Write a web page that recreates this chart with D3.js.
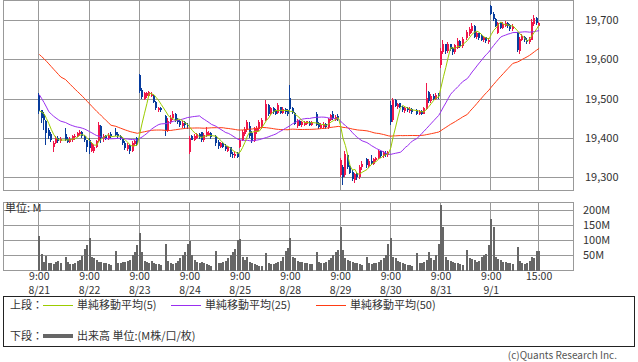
<!DOCTYPE html>
<html>
<head>
<meta charset="utf-8">
<script src="https://cdn.jsdelivr.net/npm/d3@7"></script>
<style>
  body { margin: 0; background: #fff; }
  svg { display: block; font-family: "Noto Sans CJK JP", "Noto Sans", sans-serif; }
</style>
</head>
<body>
<svg id="chart" width="638" height="362"></svg>
<script>
// 15-minute bars, 8/21 - 9/1 (lunch break slot has no bar)
var days = ["8/21", "8/22", "8/23", "8/24", "8/25", "8/28", "8/29", "8/30", "8/31", "9/1"];
var times = ["9:00", "9:15", "9:30", "9:45", "10:00", "10:15", "10:30", "10:45", "11:00", "11:15",
             "11:30",
             "12:45", "13:00", "13:15", "13:30", "13:45", "14:00", "14:15", "14:30", "14:45", "15:00"];
var lunchSlot = "11:30";
var priceTicks = [19300, 19400, 19500, 19600, 19700];
var volTicks = [50, 100, 150, 200];

// closes before 8/21, only used to start the moving averages
var priorCloses = [19730, 19725, 19728, 19732, 19735, 19730, 19728, 19725, 19729,
  19720, 19710, 19705, 19712, 19708, 19700, 19705, 19710, 19706, 19702, 19698, 19704, 19700, 19708, 19712, 19706, 19700, 19702, 19698, 19702,
  19540, 19528, 19515, 19500, 19490, 19482, 19470, 19466, 19460, 19456, 19448, 19440, 19452, 19446, 19456, 19460, 19465, 19468, 19472, 19470];

// [open, high, low, close]
var bars0821 = [[19510,19514,19462,19468],[19470,19472,19438,19452],[19460,19466,19420,19445],[19444,19446,19382,19412],[19420,19426,19398,19405],
  [19410,19414,19390,19395],[19378,19392,19364,19388],[19388,19404,19384,19400],[19400,19406,19388,19392],[19392,19402,19388,19398],
  [19410,19425,19392,19396],[19398,19402,19386,19390],[19390,19402,19386,19398],[19394,19408,19390,19404],[19402,19410,19396,19406],
  [19404,19416,19402,19412],[19410,19420,19406,19416],[19416,19418,19400,19404],[19404,19408,19390,19394],[19394,19396,19364,19378]];
var bars0822 = [[19396,19400,19360,19374],[19368,19390,19364,19386],[19366,19382,19362,19378],[19378,19396,19374,19392],[19392,19440,19390,19432],
  [19430,19432,19387,19400],[19398,19410,19390,19406],[19406,19408,19394,19398],[19398,19412,19394,19408],[19410,19414,19400,19404],
  [19416,19425,19404,19408],[19410,19414,19400,19404],[19406,19408,19396,19400],[19400,19402,19382,19386],[19388,19392,19370,19374],
  [19372,19386,19366,19382],[19382,19384,19360,19366],[19368,19392,19364,19388],[19384,19396,19380,19392],[19400,19402,19380,19384]];
var bars0823 = [[19560,19562,19515,19520],[19522,19528,19500,19505],[19500,19518,19496,19514],[19506,19518,19502,19514],[19508,19520,19504,19516],
  [19508,19516,19504,19512],[19508,19510,19488,19492],[19492,19494,19472,19476],[19470,19480,19466,19476],[19476,19480,19466,19470],
  [19455,19458,19405,19418],[19418,19450,19414,19442],[19440,19458,19436,19452],[19450,19468,19446,19462],[19462,19464,19440,19446],
  [19446,19450,19436,19440],[19442,19446,19428,19434],[19430,19442,19426,19438],[19440,19444,19426,19432],[19434,19438,19424,19430]];
var bars0824 = [[19364,19404,19360,19400],[19405,19408,19394,19396],[19396,19410,19392,19406],[19400,19412,19398,19410],[19410,19412,19398,19402],
  [19414,19416,19390,19394],[19394,19412,19390,19408],[19406,19428,19402,19414],[19408,19418,19404,19412],[19412,19414,19398,19402],
  [19404,19408,19380,19386],[19390,19394,19372,19380],[19378,19390,19374,19386],[19388,19390,19374,19378],[19380,19384,19366,19372],
  [19368,19380,19364,19376],[19376,19378,19352,19358],[19360,19364,19350,19356],[19354,19364,19350,19360],[19362,19364,19348,19352]];
var bars0825 = [[19378,19400,19374,19396],[19396,19420,19392,19414],[19410,19428,19406,19422],[19420,19446,19416,19440],[19430,19440,19400,19404],
  [19412,19418,19386,19392],[19392,19428,19390,19424],[19414,19430,19410,19426],[19422,19446,19418,19440],[19428,19450,19424,19446],
  [19446,19496,19444,19486],[19484,19486,19456,19460],[19462,19480,19458,19476],[19476,19478,19460,19466],[19470,19474,19458,19462],
  [19464,19490,19460,19484],[19478,19480,19460,19464],[19464,19478,19460,19474],[19474,19476,19460,19466],[19470,19474,19456,19460]];
var bars0828 = [[19502,19535,19470,19474],[19476,19478,19460,19464],[19464,19466,19432,19436],[19430,19448,19426,19444],[19444,19446,19430,19434],
  [19432,19442,19428,19440],[19434,19444,19430,19440],[19436,19444,19432,19442],[19440,19444,19430,19434],[19432,19444,19430,19440],
  [19462,19466,19430,19434],[19438,19440,19424,19428],[19426,19438,19422,19434],[19428,19440,19424,19436],[19436,19438,19424,19428],
  [19428,19452,19424,19448],[19446,19462,19442,19458],[19460,19468,19446,19450],[19446,19458,19442,19454],[19456,19460,19444,19448]];
var bars0829 = [[19306,19350,19300,19344],[19326,19330,19280,19300],[19306,19366,19302,19358],[19356,19360,19322,19326],[19328,19332,19308,19312],
  [19314,19318,19290,19296],[19292,19312,19286,19308],[19310,19314,19294,19300],[19300,19330,19296,19326],[19326,19342,19318,19334],
  [19346,19350,19324,19330],[19328,19346,19324,19342],[19342,19356,19330,19336],[19334,19348,19330,19346],[19344,19352,19340,19348],
  [19348,19370,19346,19366],[19366,19368,19350,19354],[19354,19366,19350,19362],[19362,19366,19352,19356],[19356,19368,19352,19364]];
var bars0830 = [[19484,19494,19432,19440],[19446,19502,19440,19496],[19496,19500,19478,19482],[19478,19490,19474,19486],[19488,19490,19476,19480],
  [19480,19482,19466,19470],[19468,19480,19464,19476],[19476,19478,19466,19470],[19468,19478,19464,19474],[19474,19476,19462,19466],
  [19472,19474,19458,19462],[19460,19472,19458,19468],[19468,19470,19458,19462],[19462,19480,19460,19476],[19474,19540,19470,19502],
  [19516,19520,19490,19494],[19494,19512,19490,19508],[19508,19512,19496,19500],[19500,19514,19496,19510],[19510,19514,19500,19506]];
var bars0831 = [[19586,19628,19578,19622],[19618,19648,19614,19640],[19638,19640,19614,19620],[19620,19644,19616,19640],[19638,19640,19620,19626],
  [19628,19632,19612,19618],[19618,19640,19614,19636],[19630,19654,19626,19646],[19646,19650,19630,19634],[19634,19656,19630,19652],
  [19654,19674,19650,19670],[19664,19682,19660,19678],[19672,19692,19668,19686],[19684,19688,19654,19658],[19656,19670,19652,19666],
  [19666,19668,19650,19654],[19660,19664,19646,19650],[19648,19660,19644,19656],[19656,19658,19642,19646],[19644,19654,19640,19648]];
var bars0901 = [[19736,19738,19712,19716],[19716,19720,19698,19702],[19702,19704,19682,19686],[19668,19696,19664,19692],[19692,19694,19676,19680],
  [19680,19694,19676,19690],[19686,19698,19682,19692],[19692,19696,19680,19684],[19688,19690,19672,19676],[19676,19690,19672,19686],
  [19668,19670,19618,19624],[19620,19658,19614,19652],[19650,19664,19646,19660],[19658,19660,19644,19648],[19650,19654,19640,19644],
  [19644,19656,19640,19652],[19650,19702,19648,19696],[19690,19712,19686,19704],[19704,19708,19688,19692],[19686,19696,19682,19692]];

// volume, M shares
var vol0821 = [114,55,28,47,26,24,22,28,30,24, 44,27,20,20,24,30,35,48,70,84];
var vol0822 = [106,46,40,35,29,28,24,24,20,18, 65,24,26,28,28,30,34,51,60,84];
var vol0823 = [123,60,32,28,26,30,24,22,20,18, 88,30,24,22,26,30,40,50,62,87];
var vol0824 = [99,51,35,29,24,28,24,20,18,16, 65,24,24,28,30,40,50,60,72,100];
var vol0825 = [104,46,35,46,28,24,20,18,16,15, 57,24,20,22,24,28,32,45,64,73];
var vol0828 = [109,46,40,31,29,28,24,24,22,20, 62,29,26,24,28,35,40,51,62,68];
var vol0829 = [145,68,40,35,31,29,24,24,20,18, 45,24,20,24,24,29,35,40,51,88];
var vol0830 = [107,46,40,31,29,24,20,18,18,16, 57,24,24,29,35,61,40,35,51,88];
var vol0831 = [215,145,46,35,31,29,24,24,20,18, 68,40,38,35,29,31,46,51,53,84];
var vol0901 = [171,145,46,38,35,29,29,24,24,20, 77,33,24,20,24,30,44,42,63,63];

var barsByDay = [bars0821, bars0822, bars0823, bars0824, bars0825, bars0828, bars0829, bars0830, bars0831, bars0901];
var volByDay = [vol0821, vol0822, vol0823, vol0824, vol0825, vol0828, vol0829, vol0830, vol0831, vol0901];

var upColor = "#f0174b", downColor = "#083c9c";
var gridColor = "#999", textColor = "#333";

// build slot keys and bar records
var slots = [];
var bars = [];
days.forEach(function(d, di) {
  var j = 0;
  times.forEach(function(t) {
    var key = d + " " + t;
    slots.push(key);
    if (t === lunchSlot) return;
    var b = barsByDay[di][j];
    bars.push({ key: key, o: b[0], h: b[1], l: b[2], c: b[3], v: volByDay[di][j] });
    j++;
  });
});

var closes = priorCloses.concat(bars.map(function(b) { return b.c; }));
function sma(n) {
  return bars.map(function(b, i) {
    var k = i + priorCloses.length;
    return { key: b.key, v: d3.mean(closes.slice(k - n + 1, k + 1)) };
  });
}

var svg = d3.select("#chart");
var left = 3.5, right = 573.5;
var pTop = 0.5, pBottom = 190.5, vTop = 202.5, vBottom = 270.5;

var x = d3.scaleBand().domain(slots).range([38.1, 540.3]);
function cx(key) { return x(key) + x.bandwidth() / 2; }

var y = d3.scaleLinear().domain([19266.4, 19749.6]).range([pBottom, pTop]);
var yv = d3.scaleLinear().domain([0, 224.8]).range([vBottom, vTop]);

// vertical grid positions: every 9:00, plus final 15:00
var vLines = days.map(function(d) { return d + " 9:00"; }).concat([days[days.length - 1] + " 15:00"]);

function drawPanel(top, bottom, ticks, scale) {
  var g = svg.append("g");
  g.selectAll(".hg").data(ticks).enter().append("line")
    .attr("x1", left).attr("x2", right)
    .attr("y1", function(d) { return Math.round(scale(d)) + 0.5; })
    .attr("y2", function(d) { return Math.round(scale(d)) + 0.5; })
    .attr("stroke", gridColor);
  g.selectAll(".vg").data(vLines).enter().append("line")
    .attr("x1", function(d) { return Math.round(cx(d)) - 0.5; })
    .attr("x2", function(d) { return Math.round(cx(d)) - 0.5; })
    .attr("y1", top).attr("y2", bottom)
    .attr("stroke", gridColor);
  g.append("rect").attr("x", left).attr("y", top)
    .attr("width", right - left).attr("height", bottom - top)
    .attr("fill", "none").attr("stroke", gridColor);
}
drawPanel(pTop, pBottom, priceTicks, y);
drawPanel(vTop, vBottom, volTicks, yv);

// candles
var cg = svg.append("g").attr("shape-rendering", "crispEdges");
cg.selectAll(".wick").data(bars).enter().append("line")
  .attr("x1", function(d) { return Math.round(cx(d.key)) - 0.5; })
  .attr("x2", function(d) { return Math.round(cx(d.key)) - 0.5; })
  .attr("y1", function(d) { return y(d.h); })
  .attr("y2", function(d) { return y(d.l); })
  .attr("stroke", function(d) { return d.c >= d.o ? upColor : downColor; });
cg.selectAll(".body").data(bars).enter().append("rect")
  .attr("x", function(d) { return Math.round(cx(d.key)) - 1; })
  .attr("width", 2)
  .attr("y", function(d) { return y(Math.max(d.o, d.c)); })
  .attr("height", function(d) { return Math.max(1, Math.abs(y(d.o) - y(d.c))); })
  .attr("fill", function(d) { return d.c >= d.o ? upColor : downColor; });

// moving averages
var line = d3.line().x(function(d) { return cx(d.key); }).y(function(d) { return y(d.v); });
var maDefs = [{ n: 50, color: "#ff3c14" }, { n: 25, color: "#9a2ef0" }, { n: 5, color: "#9ccc00" }];
maDefs.forEach(function(m) {
  svg.append("path").datum(sma(m.n)).attr("d", line)
    .attr("fill", "none").attr("stroke", m.color).attr("stroke-width", 1);
});

// volume bars
svg.append("g").attr("shape-rendering", "crispEdges")
  .selectAll("rect").data(bars).enter().append("rect")
  .attr("x", function(d) { return Math.round(cx(d.key)) - 1; })
  .attr("width", 2)
  .attr("y", function(d) { return yv(d.v); })
  .attr("height", function(d) { return vBottom - yv(d.v); })
  .attr("fill", "#666");

// right axis labels
svg.selectAll(".pl").data(priceTicks).enter().append("text")
  .attr("x", 585).attr("y", function(d) { return y(d) + 4; })
  .attr("font-size", 11).attr("fill", textColor)
  .text(function(d) { return d3.format(",")(d); });
svg.selectAll(".vl").data(volTicks).enter().append("text")
  .attr("x", 583).attr("y", function(d) { return yv(d) + 4; })
  .attr("font-size", 11).attr("fill", textColor)
  .text(function(d) { return d + "M"; });

svg.append("text").attr("x", 5).attr("y", 212).attr("font-size", 11).attr("fill", textColor).text("単位: M");

// x labels (two lines: time, then date)
days.forEach(function(d) {
  var px = cx(d + " 9:00");
  svg.append("text").attr("x", px).attr("y", 280).attr("text-anchor", "middle")
    .attr("font-size", 10.5).attr("fill", textColor).text("9:00");
  svg.append("text").attr("x", px).attr("y", 294).attr("text-anchor", "middle")
    .attr("font-size", 10.5).attr("fill", textColor).text(d);
});
svg.append("text").attr("x", cx(days[days.length - 1] + " 15:00")).attr("y", 280)
  .attr("text-anchor", "middle").attr("font-size", 10.5).attr("fill", textColor).text("15:00");

// legend
svg.append("rect").attr("x", 3.5).attr("y", 296.5).attr("width", 631).attr("height", 50)
  .attr("fill", "none").attr("stroke", "#222");
var lg = svg.append("g").attr("font-size", 11).attr("fill", textColor);
lg.append("text").attr("x", 10).attr("y", 309).text("上段：");
var legendItems = [
  { x: 43, color: "#9ccc00", label: "単純移動平均(5)" },
  { x: 171, color: "#9a2ef0", label: "単純移動平均(25)" },
  { x: 316, color: "#ff3c14", label: "単純移動平均(50)" }
];
legendItems.forEach(function(it) {
  lg.append("line").attr("x1", it.x).attr("x2", it.x + 30).attr("y1", 305.5).attr("y2", 305.5)
    .attr("stroke", it.color);
  lg.append("text").attr("x", it.x + 34).attr("y", 309).text(it.label);
});
lg.append("text").attr("x", 10).attr("y", 340).text("下段：");
lg.append("line").attr("x1", 43).attr("x2", 73).attr("y1", 336).attr("y2", 336)
  .attr("stroke", "#666").attr("stroke-width", 4);
lg.append("text").attr("x", 77).attr("y", 340).text("出来高 単位:(M株/口/枚)");

svg.append("text").attr("x", 617).attr("y", 359).attr("text-anchor", "end")
  .attr("font-size", 10).attr("fill", "#555").text("(c)Quants Research Inc.");
</script>
</body>
</html>
